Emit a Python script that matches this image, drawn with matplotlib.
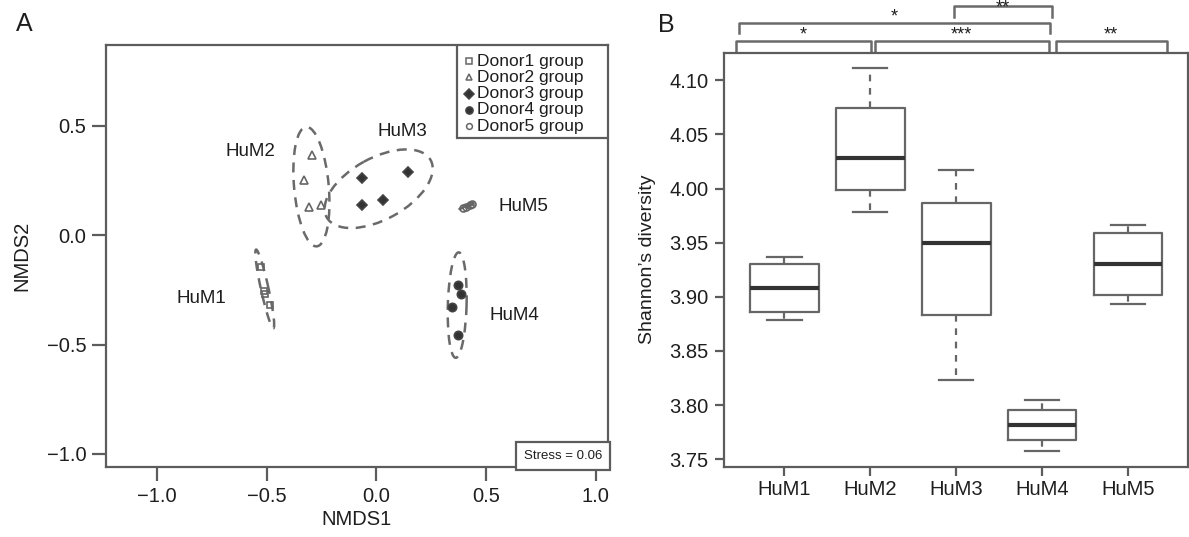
import numpy as np
import matplotlib.pyplot as plt
from matplotlib.patches import Ellipse, Rectangle
from matplotlib.offsetbox import AnchoredText
from matplotlib.transforms import blended_transform_factory

plt.rcParams['font.family'] = ['Liberation Sans', 'DejaVu Sans']

# ---- panel A: NMDS scores, one group per donor ----
donor_labels = ["Donor1 group", "Donor2 group", "Donor3 group", "Donor4 group", "Donor5 group"]
hum_names = ["HuM1", "HuM2", "HuM3", "HuM4", "HuM5"]
d1_x = [-0.527, -0.514, -0.509, -0.485]
d1_y = [-0.143, -0.253, -0.268, -0.317]
d2_x = [-0.292, -0.332, -0.308, -0.252]
d2_y = [0.368, 0.251, 0.131, 0.139]
d3_x = [-0.067, 0.146, -0.065, 0.029]
d3_y = [0.260, 0.290, 0.140, 0.161]
d4_x = [0.372, 0.386, 0.344, 0.373]
d4_y = [-0.229, -0.267, -0.327, -0.454]
d5_x = [0.397, 0.411, 0.426, 0.438]
d5_y = [0.126, 0.129, 0.139, 0.143]
stress = 0.06

# ---- panel B: Shannon diversity box stats ----
box_lo = [3.879, 3.9785, 3.8235, 3.7572, 3.893]
box_q1 = [3.8863, 3.999, 3.883, 3.7676, 3.902]
box_med = [3.9084, 4.028, 3.950, 3.782, 3.930]
box_q3 = [3.930, 4.0741, 3.987, 3.7957, 3.9586]
box_hi = [3.9365, 4.1114, 4.017, 3.805, 3.9668]
# significance brackets: (start, end, row, label) in box units
sig_brackets = [(0.43, 2.01, 0, "*"), (2.05, 4.08, 0, "***"), (4.16, 5.45, 0, "**"),
                (0.47, 4.09, 1, "*"), (2.97, 4.11, 2, "**")]

frame_col = '#5c5c5c'
text_col = '#1e1e1e'
minus_fmt = plt.FuncFormatter(lambda v, p: f'{v:.1f}'.replace('-', '\u2212'))

fig = plt.figure(figsize=(11.89, 5.37), dpi=100)

# ================= A =================
ax = fig.add_axes([0.0889, 0.1298, 0.4222, 0.7864])
groups = [(d1_x, d1_y), (d2_x, d2_y), (d3_x, d3_y), (d4_x, d4_y), (d5_x, d5_y)]
markers = ['s', '^', 'D', 'o', 'o']
filled = [False, False, True, True, False]
msizes = [5, 5.5, 5.5, 6, 5]
label_pos = [(-0.80, -0.29), (-0.575, 0.384), (0.117, 0.474), (0.631, -0.368), (0.669, 0.131)]

styles = []
for (gx, gy), m, f, ms, name, lp in zip(groups, markers, filled, msizes, hum_names, label_pos):
    gx = np.asarray(gx)
    gy = np.asarray(gy)
    fc = '#333333' if f else 'none'
    ec = '#444444' if f else '#666666'
    styles.append((m, ms, fc, ec))
    ax.plot(gx, gy, ls='none', marker=m, ms=ms, mfc=fc, mec=ec, mew=1.2)
    # 95% sd ellipse of group
    cov = np.cov(gx, gy)
    vals, vecs = np.linalg.eigh(cov)
    scale = np.sqrt(5.991)
    w, h = 2 * scale * np.sqrt(vals[::-1])
    ang = np.degrees(np.arctan2(vecs[1, -1], vecs[0, -1]))
    ax.add_patch(Ellipse((gx.mean(), gy.mean()), w, h, angle=ang, fill=False,
                         ls=(0, (4, 3)), lw=1.8, color='#6a6a6a'))
    ax.text(lp[0], lp[1], name, ha='center', va='center', fontsize=13.5, color=text_col)

ax.set_xlim(-1.234, 1.055)
ax.set_ylim(-1.061, 0.870)
ax.set_xticks([-1.0, -0.5, 0.0, 0.5, 1.0])
ax.set_yticks([-1.0, -0.5, 0.0, 0.5])
ax.xaxis.set_major_formatter(minus_fmt)
ax.yaxis.set_major_formatter(minus_fmt)
ax.tick_params(direction='out', length=10, width=1.6, color=frame_col,
               labelsize=14.5, labelcolor=text_col, pad=4)
for s in ax.spines.values():
    s.set_color(frame_col)
    s.set_linewidth(1.6)
ax.set_xlabel('NMDS1', fontsize=14.5, color=text_col)
ax.set_ylabel('NMDS2', fontsize=14.5, color=text_col)
ax.xaxis.set_label_coords(0.5, -0.10)
ax.yaxis.set_label_coords(-0.149, 0.5)

# legend box in the top right corner, drawn by hand
ax.add_patch(Rectangle((0.700, 0.780), 0.300, 0.220, transform=ax.transAxes, fill=True,
                       facecolor='white', edgecolor=frame_col, lw=1.6, zorder=4))
for i, ((m, ms, fc, ec), lab) in enumerate(zip(styles, donor_labels)):
    yy = 0.962 - i * 0.0386
    ax.plot([0.7235], [yy], transform=ax.transAxes, ls='none', marker=m, ms=ms - 0.8,
            mfc=fc, mec=ec, mew=1.1, zorder=5, clip_on=False)
    ax.text(0.740, yy, lab, transform=ax.transAxes, ha='left', va='center',
            fontsize=12.5, color=text_col, zorder=5)

at = AnchoredText(f'Stress = {stress:.2f}', loc='lower right', borderpad=0, frameon=True,
                  prop=dict(fontsize=9.5, color=text_col))
at.patch.set_edgecolor(frame_col)
at.patch.set_linewidth(1.6)
at.patch.set_boxstyle('square', pad=0.2)
ax.add_artist(at)

fig.text(0.0135, 0.955, 'A', fontsize=18, color=text_col, va='center')

# ================= B =================
bx = fig.add_axes([0.6092, 0.1309, 0.3900, 0.771])
stats = [dict(whislo=a, q1=b, med=c, q3=d, whishi=e, fliers=[], label=n)
         for a, b, c, d, e, n in zip(box_lo, box_q1, box_med, box_q3, box_hi, hum_names)]
bx.bxp(stats, positions=np.arange(1, 6), widths=0.8, capwidths=0.4, showfliers=False,
       boxprops=dict(color='#666666', lw=1.6),
       medianprops=dict(color='#333333', lw=3),
       whiskerprops=dict(color='#666666', lw=1.6, ls=(0, (3, 3))),
       capprops=dict(color='#666666', lw=1.6))
bx.set_xlim(0.3, 5.7)
bx.set_ylim(3.743, 4.1256)
bx.set_yticks([3.75, 3.80, 3.85, 3.90, 3.95, 4.00, 4.05, 4.10])
bx.yaxis.set_major_formatter(plt.FormatStrFormatter('%.2f'))
bx.tick_params(direction='out', length=6.5, width=1.6, color=frame_col,
               labelcolor=text_col)
bx.tick_params(axis='y', labelsize=14.5, pad=5)
bx.tick_params(axis='x', labelsize=14.5, pad=3)
for s in bx.spines.values():
    s.set_color(frame_col)
    s.set_linewidth(1.6)
bx.set_ylabel('Shannon\u2019s diversity', fontsize=14, color=text_col)
bx.yaxis.set_label_coords(-0.147, 0.5)

tr = blended_transform_factory(bx.transData, bx.transAxes)
row_top = [1.029, 1.0725, 1.1128]
drop = 0.026
for x0, x1, row, lab in sig_brackets:
    yt = row_top[row]
    bx.plot([x0, x0, x1, x1], [yt - drop, yt, yt, yt - drop], transform=tr,
            color='#6a6a6a', lw=1.8, clip_on=False, solid_joinstyle='round')
    # the top row sits at the figure edge, so its stars go a little lower
    lab_y = yt + 0.002 if row < 2 else yt - 0.016
    bx.text((x0 + x1) / 2, lab_y, lab, transform=tr, ha='center', va='baseline',
            fontsize=13, color=text_col, clip_on=False)

fig.text(0.553, 0.953, 'B', fontsize=18, color=text_col, va='center')

fig.savefig('out.png', dpi=100)
